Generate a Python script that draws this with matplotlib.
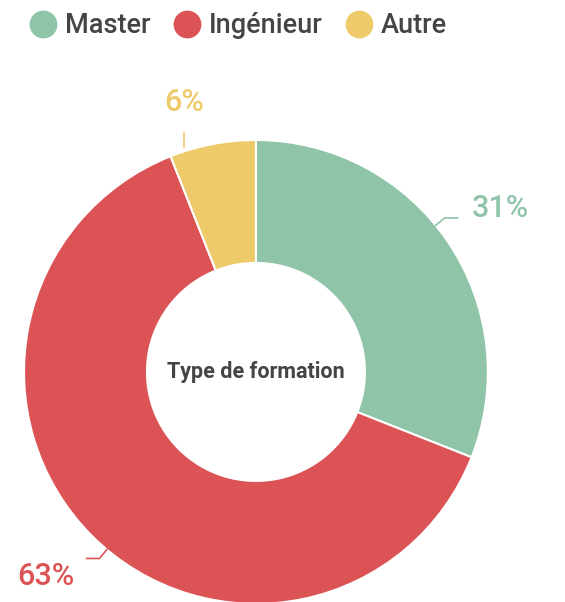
import matplotlib.pyplot as plt
import numpy as np
from matplotlib.lines import Line2D

plt.rcParams['font.family'] = ['Roboto', 'DejaVu Sans']

categories = ['Master', 'Ingénieur', 'Autre']
values = [31, 63, 6]
colors = ['#8FC4A8', '#DC5356', '#EFCA6A']
center_title = 'Type de formation'

fig = plt.figure(figsize=(5.65, 6.02), dpi=100)
ax = fig.add_axes([0.0425, -0.0033, 0.821, 0.771])
wedges, _ = ax.pie(values, colors=colors, startangle=90, counterclock=False,
                   radius=1.0, wedgeprops=dict(width=0.53, edgecolor='white', linewidth=1.5))
ax.set_xlim(-1, 1)
ax.set_ylim(-1, 1)
ax.set_aspect('equal')
ax.axis('off')

ax.text(0, 0, center_title, ha='center', va='center', fontsize=15.5,
        fontweight='bold', color='#444444')

# outside labels with short leader lines
for w, v, c in zip(wedges, values, colors):
    mid = np.deg2rad((w.theta1 + w.theta2) / 2)
    cx, cy = np.cos(mid), np.sin(mid)
    if abs(cx) > 0.3:
        side = 1 if cx >= 0 else -1
        a = mid + np.deg2rad(5)
        x0, y0 = 1.0 * np.cos(a), 1.0 * np.sin(a)
        x1, y1 = 1.05 * np.cos(a), 1.05 * np.sin(a)
        ax.plot([x0, x1, x1 + side * 0.055], [y0, y1, y1], color=c, lw=1.2,
                clip_on=False)
        ax.text(1.25 * cx + side * 0.02, 1.25 * cy, f'{v}%', ha='center', va='center',
                fontsize=22, fontweight='medium', color=c, clip_on=False)
    else:
        lx = 1.07 * cx - 0.11
        ax.plot([lx, lx], [0.97, 1.03], color=c, lw=1.2, clip_on=False)
        ax.text(lx, 1.16, f'{v}%', ha='center', va='center',
                fontsize=22, fontweight='medium', color=c, clip_on=False)

handles = [Line2D([], [], marker='o', linestyle='none', markersize=19,
                  markerfacecolor=c, markeredgecolor=c) for c in colors]
fig.legend(handles, categories, loc='upper left', bbox_to_anchor=(0.005, 1.02),
           ncol=3, frameon=False, handletextpad=0.2, columnspacing=0.75,
           labelcolor='#444444', handlelength=1.2,
           prop=dict(family=['Roboto', 'DejaVu Sans'], size=19.5, weight='medium'))

fig.savefig('out.png', dpi=100)
